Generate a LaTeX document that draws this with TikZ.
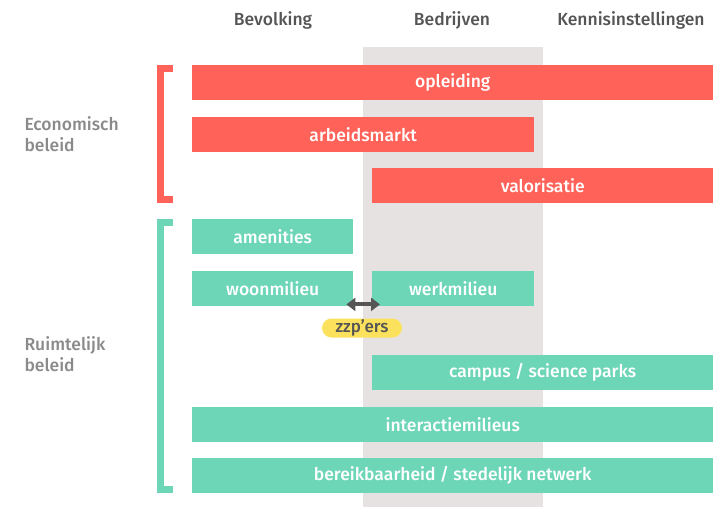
\documentclass[tikz,border=0pt]{standalone}
\usepackage{fontspec}
\setmainfont{Fira Sans}[BoldFont={Fira Sans Medium}]
\usetikzlibrary{arrows.meta}
\definecolor{barred}{HTML}{FF6258}
\definecolor{bargreen}{HTML}{6DD6B7}
\definecolor{band}{HTML}{E6E2E1}
\definecolor{pill}{HTML}{FCE25C}
\definecolor{headgray}{HTML}{555555}
\definecolor{sidegray}{HTML}{8A8A8A}
\definecolor{arrowgray}{HTML}{555555}
\begin{document}
\begin{tikzpicture}[x=1pt,y=-1pt,
  bar/.style={rectangle, anchor=north west, minimum height=35pt, inner sep=0pt,
    text=white, font=\fontsize{17.5}{20}\selectfont\bfseries},
  redbar/.style={bar, fill=barred},
  greenbar/.style={bar, fill=bargreen},
  header/.style={text=headgray, font=\fontsize{17.5}{20}\selectfont\bfseries},
  sidelabel/.style={text=sidegray, anchor=north west, align=left,
    font=\fontsize{17.5}{21}\selectfont\bfseries},
  bracket/.style={line width=7pt, line join=miter, line cap=butt},
  link/.style={draw=arrowgray, line width=4pt,
    {Triangle[length=9pt,width=13pt]}-{Triangle[length=9pt,width=13pt]}},
  tag/.style={rectangle, rounded corners=9.5pt, fill=pill, minimum width=80pt,
    minimum height=19pt, inner sep=0pt, text=headgray,
    font=\fontsize{17}{18}\selectfont\bfseries}]
\useasboundingbox (0,0) rectangle (716,507);
% central column band
\fill[band] (363,47) rectangle (543,507);
% column headers
\node[header] (hbev) at (273,20) {Bevolking};
\node[header] (hbed) at (452,20) {Bedrijven};
\node[header] (hken) at (631,20) {Kennisinstellingen};
% economic policy
\draw[bracket, barred] (173,68.5) -- (160,68.5) -- (160,199.5) -- (173,199.5);
\node[sidelabel] (econ) at (21,113) {Economisch\\beleid};
\node[redbar, minimum width=521pt] (opl) at (192,65) {opleiding};
\node[redbar, minimum width=342pt] (arb) at (192,117) {arbeidsmarkt};
\node[redbar, minimum width=341pt] (val) at (372,168) {valorisatie};
% spatial policy
\draw[bracket, bargreen] (173,222.5) -- (160,222.5) -- (160,489.5) -- (173,489.5);
\node[sidelabel] (ruim) at (21,333) {Ruimtelijk\\beleid};
\node[greenbar, minimum width=161pt] (amen) at (192,219) {amenities};
\node[greenbar, minimum width=161pt] (woon) at (192,271) {woonmilieu};
\node[greenbar, minimum width=162pt] (werk) at (372,271) {werkmilieu};
\node[greenbar, minimum width=341pt] (camp) at (372,355) {campus / science parks};
\node[greenbar, minimum width=521pt] (inter) at (192,407) {interactiemilieus};
\node[greenbar, minimum width=521pt] (bereik) at (192,458) {bereikbaarheid / stedelijk netwerk};
% link between living and working environment
\draw[link] ([xshift=-7pt,yshift=2pt]woon.south east) -- ([xshift=8pt,yshift=2pt]werk.south west);
\node[tag] (zzp) at (362,328) {zzp'ers};
\end{tikzpicture}
\end{document}
